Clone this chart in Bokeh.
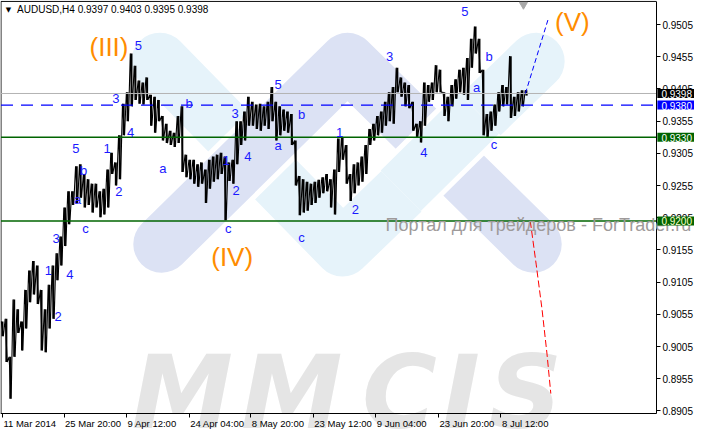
import numpy as np
from bokeh.plotting import figure
from bokeh.models import Range1d, FixedTicker, PrintfTickFormatter, Label, LinearAxis
from bokeh.core.properties import value
from bokeh.embed import file_html
from bokeh.resources import INLINE

# ---------------- data ----------------
symbol_header = "AUDUSD,H4  0.9397 0.9403 0.9395 0.9398"
bars_per_chunk = 4  # each entry below spans 4 H4 bars

chunk_high = [0.9044, 0.9048, 0.8989, 0.9078, 0.9063, 0.9044, 0.9093, 0.9123, 0.9138, 0.9131,
              0.9093, 0.9063, 0.9101, 0.9131, 0.9150, 0.9176, 0.9221, 0.9246, 0.9246, 0.9285,
              0.9288, 0.9273, 0.9265, 0.9258, 0.9258, 0.9246, 0.9250, 0.9280, 0.9306, 0.9291,
              0.9333, 0.9382, 0.9400, 0.9460, 0.9441, 0.9418, 0.9415, 0.9423, 0.9396, 0.9393,
              0.9388, 0.9363, 0.9351, 0.9340, 0.9337, 0.9363, 0.9378, 0.9303, 0.9295, 0.9295,
              0.9288, 0.9291, 0.9280, 0.9295, 0.9300, 0.9303, 0.9306, 0.9300, 0.9291, 0.9295,
              0.9355, 0.9355, 0.9370, 0.9393, 0.9385, 0.9381, 0.9382, 0.9378, 0.9385, 0.9408,
              0.9385, 0.9378, 0.9373, 0.9370, 0.9366, 0.9325, 0.9270, 0.9265, 0.9261, 0.9258,
              0.9261, 0.9264, 0.9268, 0.9273, 0.9265, 0.9280, 0.9328, 0.9330, 0.9318, 0.9273,
              0.9288, 0.9291, 0.9300, 0.9318, 0.9343, 0.9351, 0.9363, 0.9370, 0.9385, 0.9400,
              0.9408, 0.9438, 0.9423, 0.9415, 0.9411, 0.9385, 0.9351, 0.9355, 0.9415, 0.9411,
              0.9415, 0.9442, 0.9435, 0.9400, 0.9393, 0.9411, 0.9420, 0.9435, 0.9438, 0.9453,
              0.9483, 0.9502, 0.9483, 0.9435, 0.9366, 0.9370, 0.9381, 0.9400, 0.9411, 0.9408,
              0.9456, 0.9393, 0.9400, 0.9403, 0.9403]
chunk_low = [0.9021, 0.8981, 0.8924, 0.8989, 0.9026, 0.8999, 0.9033, 0.9074, 0.9086, 0.9071,
             0.8999, 0.8996, 0.9033, 0.9048, 0.9108, 0.9131, 0.9161, 0.9195, 0.9225, 0.9228,
             0.9236, 0.9221, 0.9225, 0.9213, 0.9221, 0.9206, 0.9210, 0.9221, 0.9273, 0.9255,
             0.9265, 0.9333, 0.9355, 0.9378, 0.9388, 0.9382, 0.9381, 0.9388, 0.9348, 0.9337,
             0.9355, 0.9325, 0.9321, 0.9318, 0.9315, 0.9321, 0.9276, 0.9268, 0.9265, 0.9258,
             0.9253, 0.9258, 0.9228, 0.9250, 0.9261, 0.9265, 0.9273, 0.9201, 0.9262, 0.9258,
             0.9288, 0.9318, 0.9325, 0.9348, 0.9348, 0.9343, 0.9340, 0.9348, 0.9343, 0.9355,
             0.9325, 0.9333, 0.9340, 0.9337, 0.9318, 0.9255, 0.9209, 0.9213, 0.9216, 0.9225,
             0.9228, 0.9236, 0.9243, 0.9246, 0.9221, 0.9210, 0.9276, 0.9295, 0.9258, 0.9231,
             0.9243, 0.9255, 0.9261, 0.9273, 0.9318, 0.9325, 0.9333, 0.9337, 0.9348, 0.9355,
             0.9351, 0.9400, 0.9393, 0.9378, 0.9375, 0.9340, 0.9330, 0.9322, 0.9348, 0.9385,
             0.9388, 0.9400, 0.9400, 0.9363, 0.9355, 0.9378, 0.9390, 0.9400, 0.9396, 0.9388,
             0.9438, 0.9460, 0.9430, 0.9333, 0.9330, 0.9340, 0.9348, 0.9370, 0.9378, 0.9381,
             0.9360, 0.9363, 0.9370, 0.9378, 0.9395]

x_tick_bars = [1, 64, 128, 192, 255, 319, 383, 447, 511]
x_tick_labels = ["11 Mar 2014", "25 Mar 20:00", "9 Apr 12:00", "24 Apr 04:00", "8 May 20:00",
                 "23 May 12:00", "9 Jun 04:00", "23 Jun 20:00", "8 Jul 12:00"]
y_ticks = [0.8905, 0.8955, 0.9005, 0.9055, 0.9105, 0.9155, 0.9205, 0.9255, 0.9305,
           0.9355, 0.9405, 0.9455, 0.9505]

# horizontal levels
bid_level = 0.9398
dash_level = 0.9380
support_levels = [0.9330, 0.9200]
box_values = [0.9398, 0.9380, 0.9330, 0.9200]
box_bg = ["#000000", "#0000ff", "#006400", "#006400"]
box_fg = ["#ffffff", "#ffffff", "#ffffff", "#ffffcc"]

# wave labels
wave_text = ["2", "1", "4", "3", "5", "b", "a", "c", "1", "2", "3", "4", "5", "b", "a",
             "1", "2", "c", "3", "4", "5", "b", "a", "c", "1", "2", "3", "4", "5", "a", "b", "c"]
wave_x = [58, 48, 70, 56, 76, 84, 78, 86, 108, 120, 117, 132, 140, 192, 165,
          230, 240, 232, 239, 252, 283, 307, 283, 307, 346, 362, 397, 432, 474, 486, 499, 504]
wave_y = [0.9051, 0.9123, 0.9117, 0.9173, 0.9313, 0.9279, 0.9233, 0.9188, 0.9313, 0.9246,
          0.9390, 0.9337, 0.9472, 0.9382, 0.9282, 0.9294, 0.9248, 0.9188, 0.9367, 0.9300,
          0.9412, 0.9366, 0.9318, 0.9174, 0.9337, 0.9218, 0.9456, 0.9307, 0.9526, 0.9408,
          0.9456, 0.9319]
major_text = ["(III)", "(IV)", "(V)"]
major_x = [110, 236, 584]
major_y = [0.9470, 0.9144, 0.9509]

# forecast paths
proj_main_x = [536, 559]
proj_main_y = [0.9398, 0.9512]
proj_alt_x = [541, 547, 553, 558, 562]
proj_alt_y = [0.9200, 0.9133, 0.9063, 0.8995, 0.8932]

# watermarks
mmcis_letters = ["M", "M", "C", "I", "S"]
mmcis_x = [185, 297, 407, 470, 536]
mmcis_base = 0.8934
logo_cyan_x = [162, 349, 547]
logo_cyan_y = [0.9448, 0.9158, 0.9448]
logo_lav_x = [164, 354, 544]
logo_lav_y = [0.9164, 0.9448, 0.9164]
logo_cross_x = [408.5, 488.5]
logo_cross_y = [0.9247, 0.9367]

# chart window (bar index / price) of the plotting area
chart_left, chart_right = -0.5, 670
chart_bottom, chart_top = 0.8901, 0.9541

# ---------------- figure ----------------
p = figure(width=694, height=429, x_range=Range1d(-1, 709), y_range=Range1d(0.88762, 0.95424),
           x_axis_location=None, y_axis_location=None,
           output_backend="svg", toolbar_location=None,
           min_border_left=0, min_border_top=0, min_border_right=0, min_border_bottom=0)
p.background_fill_color = "white"
p.border_fill_color = "white"
p.outline_line_color = None
p.grid.visible = False

LAV = "#dce2f4"
CYA = "#e6f3fa"
# logo watermark
p.line(logo_cyan_x, logo_cyan_y, line_width=57, line_color=CYA, line_cap="round", line_join="round")
p.line(logo_lav_x, logo_lav_y, line_width=67, line_color="white", line_cap="round", line_join="round")
p.line(logo_lav_x, logo_lav_y, line_width=57, line_color=LAV, line_cap="round", line_join="round")
p.line(logo_cross_x, logo_cross_y, line_width=67, line_color="white", line_cap="butt")
p.line(logo_cross_x, logo_cross_y, line_width=57, line_color=CYA, line_cap="butt")

# MMCIS watermark (drawn beneath the data)
for lx, letter in zip(mmcis_x, mmcis_letters):
    p.add_layout(Label(x=lx, y=mmcis_base, text=letter, level="underlay",
                       text_font="DejaVu Sans", text_font_size="102px", text_font_style="bold italic",
                       text_color="#e5e5e5", text_align="center", text_baseline="alphabetic"))

# price bars
bar_x = np.arange(len(chunk_high)) * bars_per_chunk + 1
p.segment(x0=bar_x, y0=chunk_low, x1=bar_x, y1=chunk_high, line_color="black", line_width=2.0)
zig_x = np.column_stack([bar_x - 1.2, bar_x + 0.9]).ravel()
zig_y = np.column_stack([chunk_high, chunk_low]).ravel()
p.line(zig_x, zig_y, line_color="black", line_width=1.1)

# frame lines (top / left)
p.line([chart_left, chart_right], [chart_top, chart_top], line_color="black", line_width=1)
p.line([chart_left, chart_left], [chart_bottom, chart_top], line_color="black", line_width=1)

# levels (drawn across the chart window only)
p.line([chart_left, chart_right], [bid_level, bid_level], line_color="#b4b4b4", line_width=1)
p.line([chart_left, chart_right], [dash_level, dash_level], line_color="#0000ff", line_width=1.2,
       line_dash="12 8")
for lv in support_levels:
    p.line([chart_left, chart_right], [lv, lv], line_color="#006400", line_width=1.5)

# forecasts
p.line(proj_main_x, proj_main_y, line_color="#0000ff", line_width=1, line_dash="5 3")
p.line(proj_alt_x, proj_alt_y, line_color="#ff0000", line_width=1, line_dash="7 3")

# wave labels
p.text(x=wave_x, y=wave_y, text=wave_text, text_font=value("Liberation Sans"), text_font_size="13px",
       text_color="#1a1aff", text_align="center", text_baseline="middle")
p.text(x=major_x, y=major_y, text=major_text, text_font=value("Liberation Sans"), text_font_size="26px",
       text_color="#ff8c00", text_align="center", text_baseline="middle")

# chart shift marker
p.scatter([534], [0.9536], marker="inverted_triangle", size=8, color="#a8a8a8")

# axes
yax = LinearAxis(fixed_location=chart_right, bounds=(chart_bottom, chart_top))
yax.ticker = FixedTicker(ticks=y_ticks)
yax.formatter = PrintfTickFormatter(format="%.4f")
p.add_layout(yax, "right")
xax = LinearAxis(fixed_location=chart_bottom, bounds=(chart_left, chart_right))
xax.ticker = FixedTicker(ticks=x_tick_bars)
xax.major_label_overrides = {b: "" for b in x_tick_bars}
p.add_layout(xax, "below")
for ax in (xax, yax):
    ax.axis_line_color = "black"
    ax.major_tick_line_color = "black"
    ax.major_tick_out = 4
    ax.major_tick_in = 0
    ax.minor_tick_line_color = None
    ax.major_label_text_font = "Liberation Sans"
    ax.major_label_text_font_size = "10px"
    ax.major_label_text_color = "black"
    ax.major_label_standoff = 2

# time labels, left-aligned at their ticks
for b, lab in zip(x_tick_bars, x_tick_labels):
    p.add_layout(Label(x=b, y=chart_bottom, x_offset=1, y_offset=-10, text=lab,
                       text_font="Liberation Sans", text_font_size="9.5px", text_color="black",
                       text_align="left", text_baseline="middle"))

# header
p.add_layout(Label(x=7, y=0.9527, text="\u25bc", text_font="DejaVu Sans", text_font_size="7px",
                   text_color="black", text_align="center", text_baseline="middle"))
p.add_layout(Label(x=16, y=0.9528, text=symbol_header, text_font="Liberation Sans",
                   text_font_size="10px", text_color="black", text_align="left", text_baseline="middle"))

# portal text
p.add_layout(Label(x=393, y=0.9193, text="Портал для трейдеров - ForTrader.ru",
                   text_font="Liberation Sans", text_font_size="18px", text_color="#9e9a9a",
                   text_align="left", text_baseline="middle"))

# price boxes on the right axis
for val, bg, fg in zip(box_values, box_bg, box_fg):
    p.add_layout(Label(x=chart_right, y=val, x_offset=1, text=f"{val:.4f}", text_align="left",
                       text_baseline="middle", text_font="Liberation Sans", text_font_size="10px",
                       text_color=fg, background_fill_color=bg,
                       padding=dict(left=4, right=5, top=1, bottom=0)))

open("out.html", "w").write(file_html(p, INLINE))
